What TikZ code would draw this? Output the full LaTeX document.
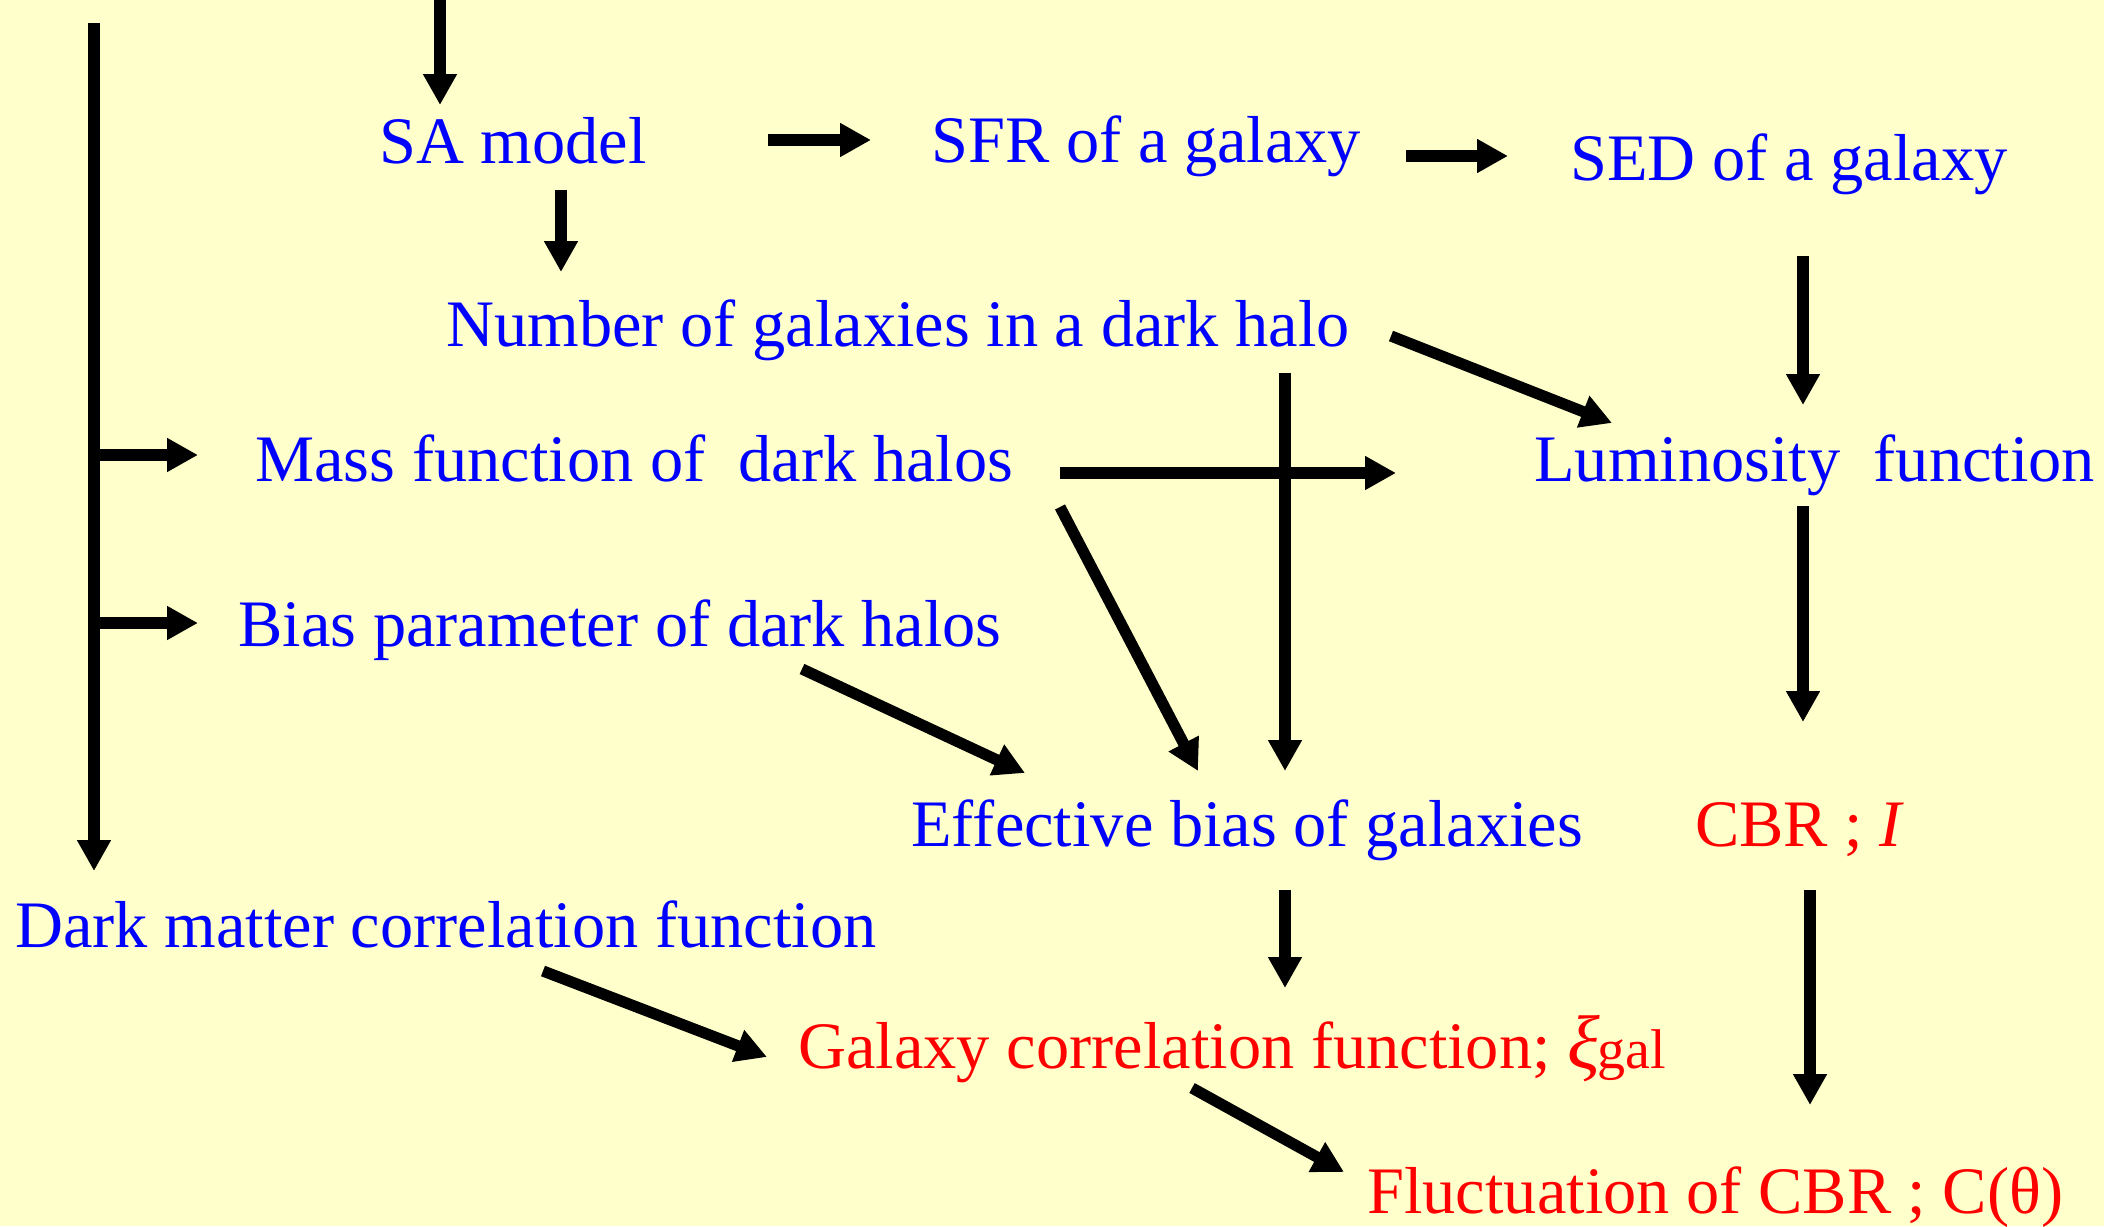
\documentclass[tikz,border=0pt]{standalone}
\usepackage{fontspec}
\setmainfont{Liberation Serif}
\usetikzlibrary{arrows.meta}
\definecolor{bg}{RGB}{255,255,204}
\begin{document}
\begin{tikzpicture}[x=0.5pt,y=-0.5pt,
  lbl/.style={anchor=base west, inner sep=0pt, font=\fontsize{33.2}{40}\selectfont},
  bl/.style={lbl, text=blue},
  rd/.style={lbl, text=red},
  ln/.style={line width=5.6pt},
  arr/.style={ln, -{Triangle[width=16pt,length=15.5pt]}}]
\fill[bg] (0,0) rectangle (2104,1226);
\useasboundingbox (0,0) rectangle (2104,1226);

% text nodes
\node[bl] (sa)   at (379,163)  {SA model};
\node[bl] (sfr)  at (931,162)  {SFR of a galaxy};
\node[bl] (sed)  at (1570,180) {SED of a galaxy};
\node[bl] (num)  at (446,346)  {Number of galaxies in a dark halo};
\node[bl] (mass) at (255,481)  {Mass function of\ \ dark halos};
\node[bl] (lum)  at (1534,481) {Luminosity\ \ function};
\node[bl] (bias) at (238,646)  {Bias parameter of dark halos};
\node[bl] (eff)  at (911,846)  {Effective bias of galaxies};
\node[rd] (cbr)  at (1695,846) {CBR ; \textit{I}};
\node[bl] (dm)   at (15,947)   {Dark matter correlation function};
\node[rd] (gal)  at (798,1068) {Galaxy correlation function; {\fontsize{38}{40}\selectfont\textit{ξ}}\kern-1pt{\fontsize{28}{32}\selectfont gal}};
\node[rd] (fluc) at (1367,1213) {Fluctuation of CBR ; C(θ)};

% connector end points
\coordinate (top)      at (440,0);
\coordinate (sa-in)    at (440,105);
\coordinate (sa-r)     at (768,140);
\coordinate (sfr-l)    at (871,140);
\coordinate (sfr-r)    at (1406,156);
\coordinate (sed-l)    at (1508,156);
\coordinate (sa-b)     at (561,190);
\coordinate (num-t)    at (561,272);
\coordinate (sed-b)    at (1803,256);
\coordinate (lum-t)    at (1803,405);
\coordinate (num-r)    at (1391,336);
\coordinate (lum-tl)   at (1612,423);
\coordinate (num-b)    at (1285,373);
\coordinate (eff-t)    at (1285,771);
\coordinate (mass-r)   at (1060,473);
\coordinate (lum-l)    at (1396,473);
\coordinate (mass-br)  at (1060,507);
\coordinate (eff-tl)   at (1198,771);
\coordinate (lum-b)    at (1803,506);
\coordinate (cbr-t)    at (1803,722);
\coordinate (bias-br)  at (802,669);
\coordinate (eff-tll)  at (1025,773);
\coordinate (tree-top) at (94,23);
\coordinate (dm-t)     at (94,871);
\coordinate (mass-l)   at (198,455);
\coordinate (bias-l)   at (198,623);
\coordinate (eff-b)    at (1285,890);
\coordinate (gal-t)    at (1285,988);
\coordinate (dm-br)    at (543,971);
\coordinate (gal-l)    at (767,1057);
\coordinate (gal-b)    at (1192,1088);
\coordinate (fluc-tl)  at (1344,1172);
\coordinate (cbr-b)    at (1810,890);
\coordinate (fluc-t)   at (1810,1105);

% connectors
\draw[arr] (top) -- (sa-in);
\draw[arr] (sa-r) -- (sfr-l);
\draw[arr] (sfr-r) -- (sed-l);
\draw[arr] (sa-b) -- (num-t);
\draw[arr] (sed-b) -- (lum-t);
\draw[arr] (num-r) -- (lum-tl);
\draw[arr] (num-b) -- (eff-t);
\draw[arr] (mass-r) -- (lum-l);
\draw[arr] (mass-br) -- (eff-tl);
\draw[arr] (lum-b) -- (cbr-t);
\draw[arr] (bias-br) -- (eff-tll);
\draw[arr] (tree-top) -- (dm-t);
\draw[arr] (tree-top |- mass-l) -- (mass-l);
\draw[arr] (tree-top |- bias-l) -- (bias-l);
\draw[arr] (eff-b) -- (gal-t);
\draw[arr] (dm-br) -- (gal-l);
\draw[arr] (gal-b) -- (fluc-tl);
\draw[arr] (cbr-b) -- (fluc-t);
\end{tikzpicture}
\end{document}
